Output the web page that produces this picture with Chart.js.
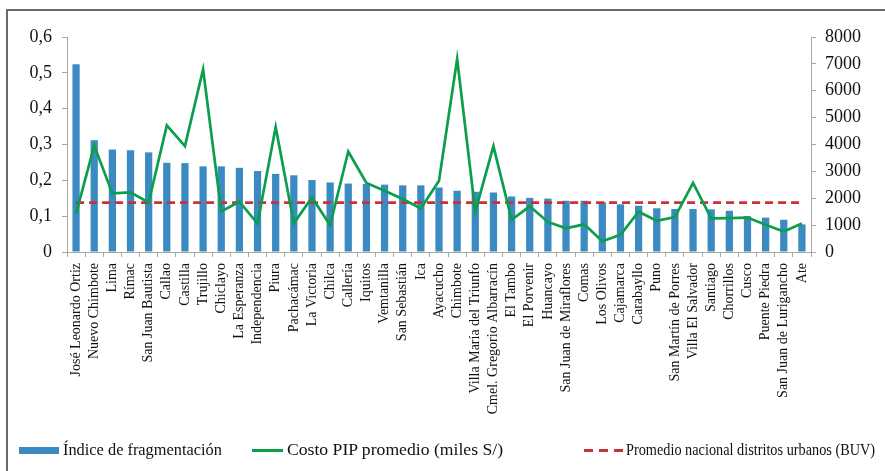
<!DOCTYPE html>
<html lang="es">
<head>
<meta charset="utf-8">
<script src="https://cdn.jsdelivr.net/npm/chart.js@4.4.1/dist/chart.umd.min.js"></script>
<style>
  html, body { margin: 0; padding: 0; background: #fff; }
  #wrap { position: relative; width: 885px; height: 471px; overflow: hidden; }
  #marco-top { position: absolute; left: 6px; top: 9px; width: 880px; height: 2px; background: #6a6a6a; }
  #marco-izq { position: absolute; left: 6px; top: 9px; width: 2px; height: 470px; background: #6a6a6a; }
  .ley { position: absolute; top: 440px; height: 20px; line-height: 20px; transform-origin: left center;
         font-family: "Liberation Serif", "DejaVu Serif", serif; font-size: 17px; color: #111; white-space: nowrap; }
  .sw { position: absolute; }
</style>
</head>
<body>
<div id="wrap">
  <canvas id="grafico" width="885" height="471"></canvas>
  <div id="marco-top"></div>
  <div id="marco-izq"></div>
  <div class="sw" style="left:19px;top:447px;width:40px;height:7px;background:#3b8bc2"></div>
  <div class="ley" data-w="159" style="left:63px">Índice de fragmentación</div>
  <div class="sw" style="left:252px;top:449px;width:31px;height:3px;background:#0b9e4b"></div>
  <div class="ley" data-w="216" style="left:287px">Costo PIP promedio (miles S/)</div>
  <div class="sw" style="left:584px;top:449px;width:40px;height:3px;background:repeating-linear-gradient(to right,#c9303a 0 9px,transparent 9px 15px)"></div>
  <div class="ley" data-w="249" style="left:626px">Promedio nacional distritos urbanos (BUV)</div>
</div>
<script>
const distritos = [
  "José Leonardo Ortiz", "Nuevo Chimbote", "Lima", "Rímac", "San Juan Bautista",
  "Callao", "Castilla", "Trujillo", "Chiclayo", "La Esperanza", "Independencia",
  "Piura", "Pachacámac", "La Victoria", "Chilca", "Callería", "Iquitos",
  "Vemtanilla", "San Sebastián", "Ica", "Ayacucho", "Chimbote",
  "Villa María del Triunfo", "Cmel. Gregorio Albarracín", "El Tambo", "El Porvenir",
  "Huancayo", "San Juan de Miraflores", "Comas", "Los Olivos", "Cajamarca",
  "Carabayllo", "Puno", "San Martín de Porres", "Villa El Salvador", "Santiago",
  "Chorrillos", "Cusco", "Puente Piedra", "San Juan de Lurigancho", "Ate"
];

// indice de fragmentacion (eje izquierdo)
const indiceFragmentacion = [
  0.524, 0.312, 0.286, 0.284, 0.278, 0.249, 0.248, 0.239, 0.239, 0.235, 0.226,
  0.218, 0.214, 0.201, 0.194, 0.191, 0.190, 0.188, 0.186, 0.186, 0.180, 0.171,
  0.168, 0.166, 0.155, 0.151, 0.149, 0.143, 0.143, 0.139, 0.133, 0.129, 0.122,
  0.120, 0.120, 0.119, 0.115, 0.100, 0.096, 0.090, 0.077
];

// costo PIP promedio en miles de soles (eje derecho)
const costoPip = [
  1430, 3960, 2180, 2220, 1840, 4710, 3940, 6800, 1510, 1870, 1060,
  4650, 1070, 2030, 1000, 3740, 2570, 2280, 1970, 1620, 2650, 7180,
  1500, 3940, 1200, 1700, 1120, 880, 1030, 400, 640, 1500, 1160,
  1300, 2570, 1250, 1260, 1280, 1010, 760, 1060
];

const promedioBuv = 0.138;

const yTicks = [0, 0.1, 0.2, 0.3, 0.4, 0.5, 0.6];
const y1Ticks = [0, 1000, 2000, 3000, 4000, 5000, 6000, 7000, 8000];

const serif = "'Liberation Serif', 'DejaVu Serif', serif";
const gris = "#a8a8a8";

// la fuente disponible es mas ancha: se comprime el texto de la leyenda
document.querySelectorAll('.ley').forEach(el => {
  const w = el.getBoundingClientRect().width;
  const target = Number(el.dataset.w);
  if (w > 0) el.style.transform = 'scaleX(' + (target / w).toFixed(3) + ')';
});

const ctx = document.getElementById('grafico').getContext('2d');
new Chart(ctx, {
  data: {
    labels: distritos,
    datasets: [
      {
        type: 'line',
        label: 'Costo PIP promedio (miles S/)',
        data: costoPip,
        yAxisID: 'y1',
        borderColor: '#0b9e4b',
        borderWidth: 2.7,
        pointRadius: 0,
        tension: 0,
        order: 0
      },
      {
        type: 'line',
        label: 'Promedio nacional distritos urbanos (BUV)',
        data: distritos.map(() => promedioBuv),
        yAxisID: 'y',
        borderColor: '#c9303a',
        borderWidth: 2.7,
        borderDash: [8, 5],
        pointRadius: 0,
        order: 1
      },
      {
        type: 'bar',
        label: 'Índice de fragmentación',
        data: indiceFragmentacion,
        yAxisID: 'y',
        backgroundColor: '#3b8bc2',
        barPercentage: 0.4,
        categoryPercentage: 1,
        order: 2
      }
    ]
  },
  options: {
    responsive: false,
    animation: false,
    layout: { padding: { top: 37, left: 0, right: 0, bottom: 0 } },
    plugins: {
      legend: { display: false },
      tooltip: { enabled: false }
    },
    scales: {
      x: {
        grid: { drawOnChartArea: false, tickLength: 5, color: gris, offset: true },
        border: { color: gris },
        ticks: {
          autoSkip: false, minRotation: 90, maxRotation: 90, padding: 6,
          color: '#111', font: { family: serif, size: 14 }
        },
        afterFit(scale) { scale.height = 219; }
      },
      y: {
        position: 'left',
        min: 0, max: 0.6,
        afterBuildTicks(scale) { scale.ticks = yTicks.map(v => ({ value: v })); },
        grid: { drawOnChartArea: false, tickLength: 5, color: gris },
        border: { color: gris },
        ticks: {
          padding: 10, color: '#111', font: { family: serif, size: 18 },
          callback: v => v === 0 ? '0' : v.toFixed(1).replace('.', ',')
        },
        afterFit(scale) { scale.width = 67; }
      },
      y1: {
        position: 'right',
        min: 0, max: 8000,
        afterBuildTicks(scale) { scale.ticks = y1Ticks.map(v => ({ value: v })); },
        grid: { drawOnChartArea: false, tickLength: 5, color: gris },
        border: { color: gris },
        ticks: {
          padding: 9, color: '#111', font: { family: serif, size: 18 },
          callback: v => String(v)
        },
        afterFit(scale) { scale.width = 74; }
      }
    }
  }
});
</script>
</body>
</html>
